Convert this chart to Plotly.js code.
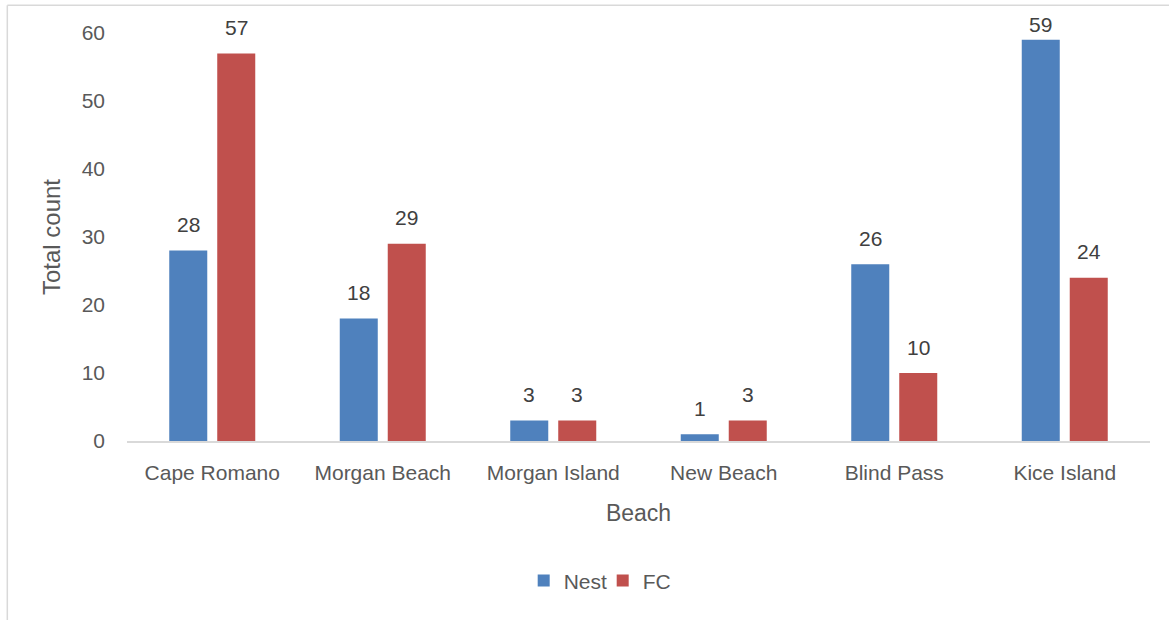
<!DOCTYPE html>
<html><head><meta charset="utf-8">
<script src="https://cdn.plot.ly/plotly-3.0.1.min.js"></script>
<style>html,body{margin:0;padding:0;background:#fff}#chart{width:1169px;height:620px}</style>
</head><body><div id="chart"></div>
<script>
var beaches = ["Cape Romano","Morgan Beach","Morgan Island","New Beach","Blind Pass","Kice Island"];
var nestValues = [28,18,3,1,26,59];
var fcValues = [57,29,3,3,10,24];
var yTicks = [0,10,20,30,40,50,60];

var font = "Liberation Sans, Arial, sans-serif";
var plotTop = 33, plotH = 408, yMax = 60;
var traces = [
  {type:"bar", name:"Nest", x:beaches, y:nestValues, marker:{color:"#4F81BD"}},
  {type:"bar", name:"FC", x:beaches, y:fcValues, marker:{color:"#C0504D"}}
];
var annotations = [];
function addLabels(vals, shift){
  vals.forEach(function(v,i){
    var barTopPx = plotTop + (yMax - v) * plotH / yMax;
    var s = Math.min(26, barTopPx - 24.5);
    annotations.push({x:beaches[i], y:v, xref:"x", yref:"y", text:String(v), showarrow:false,
      xshift:shift, yshift:s, yanchor:"middle", font:{family:font,size:21,color:"#404040"}});
  });
}
addLabels(nestValues, -24);
addLabels(fcValues, 24);

var layout = {
  width:1169, height:620,
  margin:{l:127, r:19, t:plotTop, b:179},
  paper_bgcolor:"#fff", plot_bgcolor:"#fff",
  barmode:"group", bargap:0.437, bargroupgap:0.208,
  font:{family:font, size:21, color:"#595959"},
  xaxis:{title:{text:"Beach", font:{size:23,color:"#595959"}, standoff:22},
    showline:true, linecolor:"#D9D9D9", linewidth:1.5, ticks:"", showgrid:false,
    ticklabelstandoff:12, tickfont:{size:21,color:"#595959"}},
  yaxis:{title:{text:"Total count", font:{size:24,color:"#595959"}, standoff:14},
    range:[0,yMax], tickvals:yTicks, showgrid:false, zeroline:false, showline:false,
    ticks:"", ticklabelstandoff:21, tickfont:{size:21,color:"#595959"}},
  showlegend:true,
  legend:{orientation:"h", x:0.465, xanchor:"center", y:-0.343, yanchor:"middle",
    font:{size:21,color:"#595959"}, entrywidth:34, entrywidthmode:"pixels", itemwidth:30},
  annotations:annotations,
  shapes:[
    {type:"line", xref:"paper", yref:"paper", x0:-0.117, x1:1.02, y0:1.068, y1:1.068, line:{color:"#D9D9D9",width:1.5}},
    {type:"line", xref:"paper", yref:"paper", x0:-0.117, x1:-0.117, y0:1.068, y1:-0.5, line:{color:"#D9D9D9",width:1.5}}
  ]
};
Plotly.newPlot("chart", traces, layout, {displayModeBar:false});
</script></body></html>
